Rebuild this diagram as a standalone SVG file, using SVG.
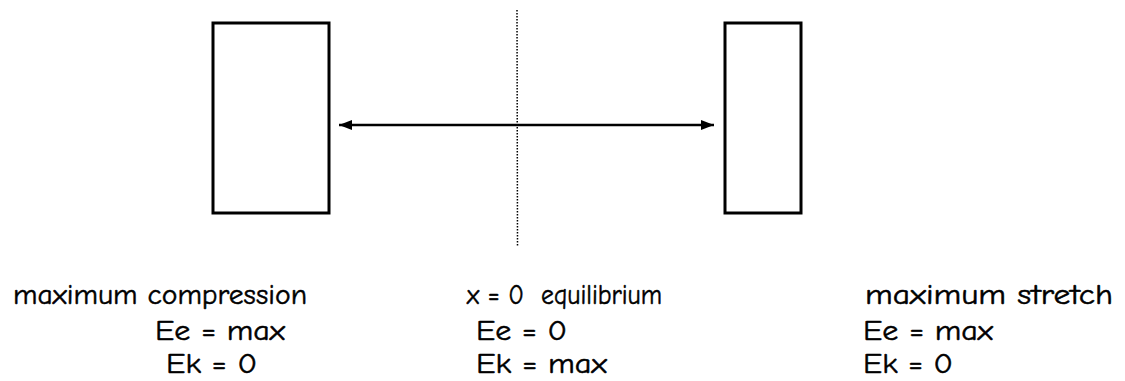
<svg xmlns="http://www.w3.org/2000/svg" width="1125" height="381" viewBox="0 0 1125 381">
<defs>
<style>
.box{fill:#fff;stroke:#000;stroke-width:3}
.t{font-family:"Comic Sans MS","Comic Neue","DejaVu Sans",sans-serif;font-size:29px;fill:#000;stroke:#000;stroke-width:0.5}
.conn{stroke:#000;stroke-width:2.5;fill:none}
.dot{stroke:#000;stroke-width:1.5;stroke-dasharray:1.5 1.5;fill:none}
</style>
<marker id="ah" viewBox="0 0 13 10" refX="13" refY="5" markerWidth="13" markerHeight="10" markerUnits="userSpaceOnUse" orient="auto-start-reverse">
<path d="M0,0 L13,5 L0,10 Z" fill="#000"/>
</marker>
</defs>
<rect width="1125" height="381" fill="#fff"/>
<g id="left-box"><rect class="box" x="213" y="23" width="116" height="190"/></g>
<g id="right-box"><rect class="box" x="725" y="23" width="76" height="190"/></g>
<g id="equilibrium-line"><line class="dot" x1="517" y1="10" x2="517.5" y2="247"/></g>
<g id="connectors"><line class="conn" x1="339" y1="125" x2="714" y2="125" marker-start="url(#ah)" marker-end="url(#ah)"/></g>
<g id="label-left">
<text class="t" x="13" y="304" textLength="294" lengthAdjust="spacingAndGlyphs">maximum compression</text>
<text class="t" x="155" y="340" textLength="130" lengthAdjust="spacingAndGlyphs">Ee = max</text>
<text class="t" x="166" y="373" textLength="91" lengthAdjust="spacingAndGlyphs">Ek = 0</text>
</g>
<g id="label-mid">
<text class="t" x="467" y="304" textLength="195" lengthAdjust="spacingAndGlyphs" xml:space="preserve">x = 0  equilibrium</text>
<text class="t" x="476" y="340" textLength="91" lengthAdjust="spacingAndGlyphs">Ee = 0</text>
<text class="t" x="476" y="373" textLength="131" lengthAdjust="spacingAndGlyphs">Ek = max</text>
</g>
<g id="label-right">
<text class="t" x="865" y="304" textLength="248" lengthAdjust="spacingAndGlyphs">maximum stretch</text>
<text class="t" x="863" y="340" textLength="130" lengthAdjust="spacingAndGlyphs">Ee = max</text>
<text class="t" x="863" y="373" textLength="90" lengthAdjust="spacingAndGlyphs">Ek = 0</text>
</g>
</svg>
